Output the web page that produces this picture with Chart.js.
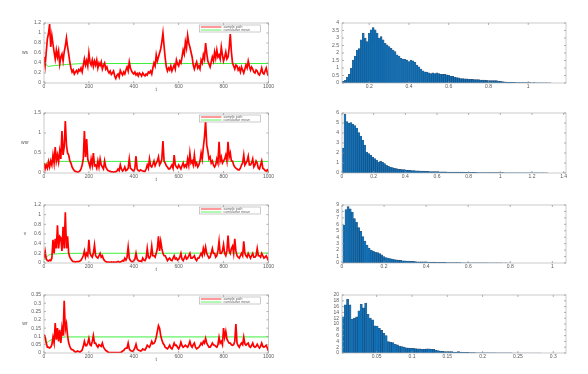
<!DOCTYPE html>
<html>
<head>
<meta charset="utf-8">
<script src="https://cdn.jsdelivr.net/npm/chart.js"></script>
<style>
  body { margin: 0; background: #fff; }
  #page { position: relative; width: 588px; height: 374px; overflow: hidden; background: #fff; }
  #page canvas { position: absolute; }
</style>
</head>
<body>
<div id="page"></div>
<script>
// ---- time series (one value every tStep of t) ----
const tStep = 5;
const tTicks = [0, 200, 400, 600, 800, 1000];

const wsPath = [
  0.52,0.35,0.62,0.88,0.99,1.18,0.72,0.95,0.78,0.62,
  0.48,0.66,0.52,0.64,0.38,0.52,0.58,0.44,0.62,0.74,
  0.90,0.72,0.58,0.42,0.30,0.22,0.26,0.18,0.22,0.25,
  0.20,0.27,0.24,0.30,0.22,0.35,0.48,0.36,0.45,0.34,
  0.60,0.42,0.36,0.46,0.33,0.44,0.36,0.46,0.30,0.40,
  0.35,0.42,0.28,0.35,0.40,0.28,0.32,0.24,0.20,0.24,
  0.17,0.20,0.24,0.14,0.09,0.15,0.18,0.12,0.25,0.20,
  0.16,0.22,0.18,0.26,0.32,0.24,0.42,0.30,0.24,0.20,
  0.18,0.22,0.16,0.19,0.14,0.20,0.18,0.14,0.20,0.16,
  0.14,0.18,0.16,0.22,0.20,0.24,0.18,0.30,0.40,0.34,
  0.56,0.44,0.52,0.60,0.68,0.82,1.00,0.74,0.50,0.32,
  0.24,0.30,0.26,0.34,0.24,0.30,0.36,0.28,0.46,0.38,
  0.34,0.44,0.40,0.52,0.66,0.58,0.82,0.70,0.95,0.80,
  0.72,0.62,0.52,0.36,0.28,0.36,0.42,0.30,0.34,0.28,
  0.46,0.40,0.56,0.48,0.80,0.60,0.44,0.38,0.32,0.42,
  0.52,0.44,0.62,0.50,0.66,0.52,0.56,0.48,0.72,0.56,
  0.44,0.52,0.62,0.48,0.52,0.70,0.98,0.62,0.40,0.34,
  0.28,0.36,0.34,0.26,0.30,0.22,0.32,0.26,0.20,0.28,
  0.36,0.30,0.44,0.34,0.26,0.32,0.28,0.22,0.20,0.26,
  0.24,0.18,0.16,0.22,0.30,0.20,0.18,0.24,0.30,0.20,
  0.14
];
const wsMeanT = [0, 5, 10, 15, 20, 30, 50, 100, 150, 200, 1000];
const wsMean  = [0.52, 0.42, 0.37, 0.34, 0.33, 0.34, 0.35, 0.37, 0.385, 0.39, 0.39];
const wsYTicks = [0, 0.2, 0.4, 0.6, 0.8, 1, 1.2];

const wsrPath = [
  0.25,0.10,0.20,0.12,0.28,0.15,0.30,0.20,0.45,0.25,
  0.65,0.30,0.45,0.28,0.55,0.35,1.05,0.45,0.65,1.30,
  0.70,0.50,0.45,0.30,0.25,0.15,0.10,0.06,0.04,0.03,
  0.02,0.03,0.05,0.10,0.20,0.35,1.05,0.40,0.85,0.35,
  0.25,0.15,0.35,0.20,0.50,0.18,0.20,0.12,0.30,0.15,
  0.35,0.20,0.15,0.10,0.30,0.15,0.10,0.06,0.05,0.04,
  0.03,0.03,0.02,0.03,0.03,0.05,0.10,0.06,0.20,0.10,
  0.05,0.08,0.15,0.06,0.08,0.12,0.35,0.12,0.10,0.06,
  0.05,0.12,0.42,0.10,0.06,0.05,0.08,0.06,0.05,0.04,
  0.04,0.10,0.20,0.12,0.35,0.18,0.15,0.22,0.30,0.18,
  0.25,0.30,0.40,0.20,0.25,0.35,0.80,0.30,0.25,0.18,
  0.15,0.10,0.10,0.15,0.20,0.12,0.45,0.20,0.15,0.12,
  0.20,0.15,0.10,0.18,0.25,0.15,0.20,0.15,0.35,0.20,
  0.50,0.25,0.30,0.20,0.45,0.20,0.25,0.15,0.20,0.30,
  0.50,0.35,0.65,0.90,1.30,0.70,0.55,0.35,0.40,0.25,
  0.30,0.20,0.15,0.20,0.35,0.25,0.78,0.30,0.40,0.25,
  0.30,0.35,0.45,0.30,0.78,0.40,0.50,0.30,0.30,0.20,
  0.15,0.12,0.10,0.08,0.08,0.12,0.20,0.25,0.45,0.20,
  0.25,0.30,0.42,0.20,0.20,0.25,0.35,0.15,0.20,0.30,
  0.25,0.12,0.10,0.20,0.30,0.12,0.10,0.06,0.05,0.08,
  0.04
];
const wsrMeanT = [0, 5, 10, 20, 50, 1000];
const wsrMean  = [0.15, 0.20, 0.25, 0.28, 0.29, 0.29];
const wsrYTicks = [0, 0.5, 1, 1.5];

const vPath = [
  0.10,0.24,0.08,0.05,0.04,0.06,0.05,0.10,0.48,0.20,
  0.50,0.30,0.78,0.30,0.55,0.52,0.25,0.75,0.30,1.05,
  0.30,0.55,0.20,0.12,0.08,0.05,0.03,0.03,0.02,0.03,
  0.03,0.03,0.04,0.06,0.10,0.15,0.25,0.12,0.20,0.15,
  0.48,0.20,0.15,0.12,0.20,0.37,0.15,0.12,0.10,0.15,
  0.20,0.12,0.15,0.08,0.05,0.03,0.02,0.02,0.02,0.01,
  0.02,0.01,0.02,0.01,0.02,0.02,0.03,0.02,0.02,0.03,
  0.05,0.04,0.10,0.06,0.12,0.33,0.10,0.05,0.03,0.03,
  0.05,0.08,0.20,0.08,0.05,0.04,0.04,0.03,0.10,0.06,
  0.05,0.10,0.30,0.12,0.10,0.15,0.35,0.15,0.15,0.12,
  0.20,0.30,0.55,0.25,0.45,0.30,0.20,0.15,0.15,0.10,
  0.05,0.08,0.10,0.06,0.05,0.10,0.15,0.08,0.10,0.06,
  0.08,0.12,0.20,0.08,0.05,0.10,0.15,0.08,0.10,0.15,
  0.20,0.10,0.10,0.12,0.15,0.08,0.05,0.10,0.10,0.15,
  0.20,0.15,0.30,0.20,0.33,0.20,0.15,0.10,0.12,0.20,
  0.30,0.20,0.20,0.12,0.15,0.25,0.45,0.20,0.20,0.25,
  0.38,0.20,0.15,0.25,0.57,0.25,0.20,0.30,0.35,0.20,
  0.50,0.25,0.15,0.12,0.10,0.15,0.20,0.15,0.45,0.20,
  0.15,0.12,0.20,0.15,0.10,0.15,0.20,0.12,0.12,0.15,
  0.30,0.15,0.15,0.12,0.20,0.15,0.10,0.12,0.15,0.10,
  0.05
];
const vMeanT = [0, 5, 10, 20, 30, 60, 100, 1000];
const vMean  = [0.06, 0.10, 0.12, 0.16, 0.18, 0.19, 0.20, 0.205];
const vYTicks = [0, 0.2, 0.4, 0.6, 0.8, 1, 1.2];

const wrPath = [
  0.110,0.100,0.060,0.035,0.035,0.030,0.035,0.050,0.095,0.060,
  0.180,0.080,0.150,0.070,0.140,0.060,0.150,0.105,0.315,0.140,
  0.175,0.105,0.060,0.040,0.025,0.020,0.018,0.010,0.006,0.008,
  0.012,0.008,0.006,0.010,0.018,0.040,0.070,0.045,0.045,0.060,
  0.088,0.050,0.045,0.070,0.105,0.060,0.060,0.045,0.035,0.050,
  0.045,0.040,0.060,0.035,0.025,0.015,0.012,0.005,0.003,0.002,
  0.002,0.002,0.002,0.003,0.002,0.003,0.003,0.002,0.003,0.005,
  0.012,0.015,0.025,0.030,0.030,0.060,0.025,0.015,0.012,0.010,
  0.018,0.030,0.053,0.025,0.018,0.015,0.012,0.015,0.025,0.020,
  0.018,0.030,0.047,0.040,0.035,0.050,0.070,0.055,0.058,0.070,
  0.095,0.130,0.165,0.150,0.105,0.080,0.060,0.050,0.035,0.030,
  0.025,0.035,0.047,0.030,0.025,0.040,0.060,0.045,0.047,0.035,
  0.025,0.040,0.065,0.045,0.035,0.040,0.047,0.040,0.035,0.050,
  0.070,0.045,0.035,0.050,0.060,0.035,0.025,0.030,0.035,0.045,
  0.060,0.050,0.070,0.060,0.088,0.060,0.047,0.035,0.035,0.045,
  0.060,0.050,0.047,0.040,0.035,0.050,0.095,0.060,0.070,0.050,
  0.150,0.095,0.130,0.085,0.070,0.060,0.060,0.050,0.047,0.050,
  0.070,0.175,0.060,0.045,0.035,0.050,0.060,0.050,0.095,0.055,
  0.047,0.055,0.060,0.040,0.035,0.045,0.060,0.040,0.035,0.040,
  0.053,0.040,0.030,0.040,0.060,0.040,0.035,0.040,0.047,0.030,
  0.012
];
const wrMeanT = [0, 5, 10, 20, 40, 60, 100, 1000];
const wrMean  = [0.10, 0.075, 0.058, 0.07, 0.085, 0.092, 0.097, 0.097];
const wrYTicks = [0, 0.05, 0.1, 0.15, 0.2, 0.25, 0.3, 0.35];

const seriesNames = ['sample path', 'cumulative mean'];

// ---- histograms (bin heights, first bin start, bin width) ----
const h1Start = 0.065, h1Width = 0.01;
const h1Counts = [
  0.11,0.18,0.40,0.58,0.97,1.53,1.80,2.20,2.30,2.88,
  3.33,3.00,2.76,3.33,3.55,3.70,3.55,3.33,3.00,3.10,
  2.88,2.65,2.54,2.43,2.31,2.20,2.09,1.87,1.80,1.64,
  1.60,1.57,1.53,1.42,1.53,1.48,1.37,1.19,1.08,0.92,
  0.81,0.74,0.72,0.67,0.63,0.67,0.63,0.67,0.63,0.58,
  0.58,0.58,0.54,0.52,0.45,0.45,0.40,0.36,0.34,0.29,
  0.29,0.27,0.27,0.25,0.25,0.25,0.22,0.22,0.22,0.20,
  0.20,0.20,0.18,0.16,0.16,0.16,0.16,0.16,0.13,0.11,
  0.09,0.07,0.06,0.05,0.05,0.04,0.04,0.03,0.03,0.03,
  0.02,0.03,0.02,0.02,0.02,0.01,0.02,0.01,0.01,0.01,
  0.01,0.005,0.01,0.005,0.005
];
const h1XTicks = [0.2, 0.4, 0.6, 0.8, 1];
const h1YTicks = [0, 0.5, 1, 1.5, 2, 2.5, 3, 3.5, 4];

const h2Start = 0, h2Width = 0.0125;
const h2Counts = [
  2.5,5.9,5.15,5.0,5.05,4.9,4.75,4.5,4.05,3.7,
  3.3,2.8,2.1,1.95,1.8,1.6,1.45,1.3,1.1,1.2,
  1.1,0.95,0.77,0.67,0.6,0.54,0.47,0.44,0.4,0.37,
  0.34,0.34,0.3,0.28,0.27,0.25,0.24,0.22,0.21,0.2,
  0.19,0.18,0.17,0.16,0.15,0.15,0.14,0.13,
  0.13,0.12,0.12,0.11,0.11,0.1,0.1,0.1,0.09,0.09,0.09,0.08,0.08,0.08,0.07,0.07,
  0.07,0.06,0.06,0.06,0.05,0.05,0.05,0.05,0.04,0.04,0.04,0.04,0.03,0.03,0.03,0.03,
  0.03,0.03,0.02,0.02,0.02,0.02,0.02,0.02,0.02,0.02,0.01,0.02,0.01,0.01,0.01,0.01,
  0.01,0.01,0.01,0.01,0.005,0.01,0.005,0.005
];
const h2XTicks = [0, 0.2, 0.4, 0.6, 0.8, 1, 1.2, 1.4];
const h2YTicks = [0, 1, 2, 3, 4, 5, 6];

const h3Start = 0.004, h3Width = 0.01;
const h3Counts = [
  5.9,8.3,8.75,8.4,7.9,6.9,6.3,5.5,4.9,4.1,
  3.4,2.8,2.3,2.0,1.86,1.7,1.6,1.46,1.26,1.0,
  0.85,0.75,0.7,0.6,0.55,0.5,0.45,0.4,0.35,0.35,
  0.3,0.3,0.25,0.25,0.22,0.2,0.2,0.2,0.18,0.17,
  0.15,0.15,0.14,0.13,0.12,0.1,0.1,0.1,0.09,0.08,
  0.07,0.07,0.06,0.05,0.05,0.05,0.04,0.04,0.04,0.03,
  0.03,0.03,0.03,0.02,0.02,0.02,0.02,0.02,0.02,0.01,
  0.01,0.01,0.01,0.01,0.01,0.01,0.005,0.01,0.005,0.005
];
const h3XTicks = [0, 0.2, 0.4, 0.6, 0.8, 1];
const h3YTicks = [0, 1, 2, 3, 4, 5, 6, 7, 8, 9];

const h4Start = 0.001, h4Width = 0.0032;
const h4Counts = [
  12.5,16.6,18.5,16.6,11.7,12.0,12.5,14.5,16.8,15.6,
  17.2,13.3,12.0,11.4,9.4,9.3,8.5,7.8,6.8,6.0,
  3.9,3.7,3.6,3.0,2.8,2.4,2.2,2.0,1.8,1.7,
  1.6,1.6,1.5,1.4,1.4,1.3,1.3,1.4,1.4,1.3,
  1.3,1.0,0.8,0.7,0.6,0.5,0.5,0.5,0.5,0.35,
  0.35,0.5,0.35,0.25,0.25,0.2,0.15,0.15,0.12,0.1,
  0.1,0.08,0.08,0.06,0.05,0.05,0.04,0.04,0.03,0.03,
  0.03,0.02,0.02,0.02,0.02,0.01,0.01,0.01,0.01,0.01,
  0.01,0.005,0.005,0.005,0.005,0.005,0.005,0.005
];
const h4XTicks = [0.05, 0.1, 0.15, 0.2, 0.25, 0.3];
const h4YTicks = [0, 2, 4, 6, 8, 10, 12, 14, 16, 18, 20];

// ---- layout ----
const panels = [
  { kind: 'line', left: 44, top: 23, w: 225, h: 60, path: wsPath, meanT: wsMeanT, mean: wsMean, yMax: 1.2, yTicks: wsYTicks, ylabel: 'ws' },
  { kind: 'hist', left: 342, top: 23, w: 224, h: 60, start: h1Start, width: h1Width, counts: h1Counts, xMin: 0.063, xMax: 1.19, yMax: 4, xTicks: h1XTicks, yTicks: h1YTicks },
  { kind: 'line', left: 44, top: 113, w: 225, h: 60, path: wsrPath, meanT: wsrMeanT, mean: wsrMean, yMax: 1.5, yTicks: wsrYTicks, ylabel: 'wsr' },
  { kind: 'hist', left: 342, top: 113, w: 224, h: 60, start: h2Start, width: h2Width, counts: h2Counts, xMin: 0, xMax: 1.415, yMax: 6, xTicks: h2XTicks, yTicks: h2YTicks },
  { kind: 'line', left: 44, top: 205, w: 225, h: 58, path: vPath, meanT: vMeanT, mean: vMean, yMax: 1.2, yTicks: vYTicks, ylabel: 'v' },
  { kind: 'hist', left: 342, top: 205, w: 224, h: 58, start: h3Start, width: h3Width, counts: h3Counts, xMin: 0, xMax: 1.065, yMax: 9, xTicks: h3XTicks, yTicks: h3YTicks },
  { kind: 'line', left: 44, top: 295, w: 225, h: 58, path: wrPath, meanT: wrMeanT, mean: wrMean, yMax: 0.35, yTicks: wrYTicks, ylabel: 'wr' },
  { kind: 'hist', left: 342, top: 295, w: 224, h: 58, start: h4Start, width: h4Width, counts: h4Counts, xMin: 0.001, xMax: 0.318, yMax: 20, xTicks: h4XTicks, yTicks: h4YTicks }
];

const PAD_L = 24, AXIS_W = 20, PAD_T = 8, PAD_R = 6, AXIS_H = 16;
const TXT = '#5a5a5a';
Chart.defaults.font.family = "'Liberation Sans', 'DejaVu Sans', sans-serif";
Chart.defaults.font.size = 5;
Chart.defaults.color = TXT;

// box round the plot, inward ticks, axis titles and the small legend
const frame = {
  id: 'frame',
  afterDraw(chart, args, opts) {
    const { ctx, chartArea: a, scales } = chart;
    ctx.save();
    ctx.strokeStyle = '#b4b4b4';
    ctx.lineWidth = 0.7;
    ctx.strokeRect(a.left, a.top, a.right - a.left, a.bottom - a.top);
    ctx.strokeStyle = '#909090';
    ctx.beginPath();
    scales.x.ticks.forEach(t => {
      const px = scales.x.getPixelForValue(t.value);
      ctx.moveTo(px, a.bottom); ctx.lineTo(px, a.bottom - 2);
      ctx.moveTo(px, a.top); ctx.lineTo(px, a.top + 2);
    });
    scales.y.ticks.forEach(t => {
      const py = scales.y.getPixelForValue(t.value);
      ctx.moveTo(a.left, py); ctx.lineTo(a.left + 2, py);
      ctx.moveTo(a.right, py); ctx.lineTo(a.right - 2, py);
    });
    ctx.stroke();

    ctx.fillStyle = TXT;
    ctx.font = "5px 'Liberation Sans', sans-serif";
    ctx.textAlign = 'center';
    ctx.textBaseline = 'middle';
    if (opts.ylabel) ctx.fillText(opts.ylabel, a.left - 19, (a.top + a.bottom) / 2);
    if (opts.xlabel) ctx.fillText(opts.xlabel, (a.left + a.right) / 2, a.bottom + 7);

    if (opts.legend) {
      const bx = a.right - 69, by = a.top + 2, bw = 61, bh = 7;
      ctx.fillStyle = '#fff';
      ctx.fillRect(bx, by, bw, bh);
      ctx.strokeStyle = '#a8a8a8';
      ctx.lineWidth = 0.6;
      ctx.strokeRect(bx, by, bw, bh);
      const rows = [[by + 2, '#ff0000', opts.legend[0]], [by + 5, '#3cf03c', opts.legend[1]]];
      ctx.font = "3.5px 'Liberation Sans', sans-serif";
      ctx.textAlign = 'left';
      rows.forEach(([ly, col, label]) => {
        ctx.strokeStyle = col;
        ctx.lineWidth = 0.8;
        ctx.beginPath(); ctx.moveTo(bx + 1.5, ly); ctx.lineTo(bx + 22, ly); ctx.stroke();
        ctx.fillStyle = '#666';
        ctx.fillText(label, bx + 24, ly);
      });
    }
    ctx.restore();
  }
};

function fixTicks(list) {
  return scale => { scale.ticks = list.map(v => ({ value: v })); };
}

function axes(p, xMin, xMax, xTicks) {
  return {
    x: {
      type: 'linear', min: xMin, max: xMax, offset: false,
      grid: { display: false, offset: false, drawTicks: false },
      border: { display: false },
      afterBuildTicks: fixTicks(xTicks),
      afterFit: s => { s.height = AXIS_H; },
      ticks: { padding: 1, maxRotation: 0, autoSkip: false, callback: v => String(v) }
    },
    y: {
      type: 'linear', min: 0, max: p.yMax,
      grid: { display: false, drawTicks: false },
      border: { display: false },
      afterBuildTicks: fixTicks(p.yTicks),
      afterFit: s => { s.width = AXIS_W; },
      ticks: { padding: 3, autoSkip: false, callback: v => String(v) }
    }
  };
}

const page = document.getElementById('page');
panels.forEach(p => {
  const cv = document.createElement('canvas');
  cv.width = PAD_L + AXIS_W + p.w + PAD_R;
  cv.height = PAD_T + p.h + AXIS_H;
  cv.style.left = (p.left - PAD_L - AXIS_W) + 'px';
  cv.style.top = (p.top - PAD_T) + 'px';
  page.appendChild(cv);

  let type, datasets, scales, frameOpts;
  if (p.kind === 'line') {
    type = 'line';
    datasets = [
      {
        data: p.path.map((v, i) => ({ x: i * tStep, y: v })),
        borderColor: '#ff0000', borderWidth: 1.7, pointRadius: 0, tension: 0
      },
      {
        data: p.meanT.map((t, i) => ({ x: t, y: p.mean[i] })),
        borderColor: '#3cf03c', borderWidth: 1, pointRadius: 0, tension: 0
      }
    ];
    scales = axes(p, 0, 1000, tTicks);
    frameOpts = { ylabel: p.ylabel, xlabel: 't', legend: seriesNames };
  } else {
    type = 'bar';
    datasets = [{
      data: p.counts.map((c, i) => ({ x: p.start + (i + 0.5) * p.width, y: c })),
      backgroundColor: '#0b72bd',
      borderColor: 'rgba(10,30,60,0.75)',
      borderWidth: 0.5,
      barPercentage: 1,
      categoryPercentage: 1
    }];
    scales = axes(p, p.xMin, p.xMax, p.xTicks);
    frameOpts = {};
  }

  new Chart(cv, {
    type: type,
    data: { datasets: datasets },
    options: {
      responsive: false,
      animation: false,
      layout: { padding: { left: PAD_L, top: PAD_T, right: PAD_R, bottom: 0 } },
      plugins: { legend: { display: false }, tooltip: { enabled: false }, frame: frameOpts },
      scales: scales
    },
    plugins: [frame]
  });
});
</script>
</body>
</html>
